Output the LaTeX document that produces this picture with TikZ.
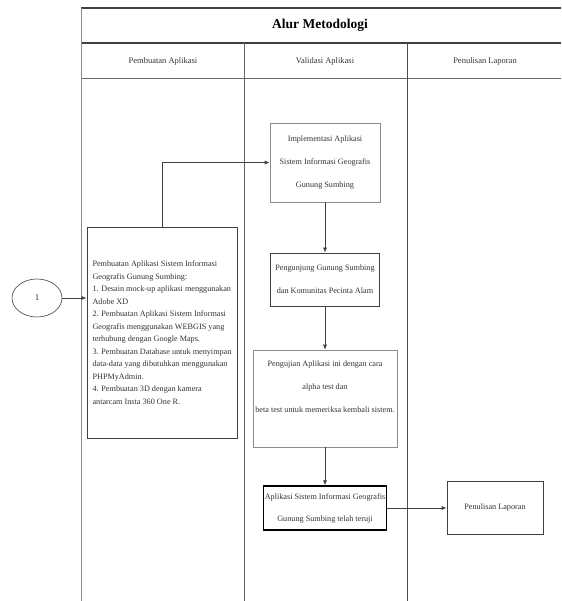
\documentclass[tikz,border=0pt]{standalone}
\usepackage{fontspec}
\setmainfont{Liberation Serif}
\usetikzlibrary{arrows.meta,shapes.geometric}
\begin{document}
\begin{tikzpicture}[x=1pt,y=-1pt,
  every node/.style={text=black!80},
  lanethin/.style={draw=black!45, line width=0.8pt},
  lanethick/.style={draw=black!75, line width=1.3pt},
  box/.style={draw=black!45, line width=0.6pt, fill=white, align=center, inner sep=0pt, font=\fontsize{8.2}{23}\selectfont},
  darkbox/.style={box, draw=black!75, line width=0.8pt},
  boldbox/.style={box, draw=black, line width=1.3pt},
  arr/.style={draw=black!75, line width=0.6pt, -{Latex[length=5pt,width=4pt]}}]
\useasboundingbox (0,0) rectangle (561,601);
% swimlane frame
\draw[lanethick] (81,8) -- (561,8);
\draw[lanethick] (81,43) -- (561,43);
\draw[lanethin, draw=black!60] (81,78) -- (561,78);
\draw[lanethin] (81,8) -- (81,601);
\draw[lanethin, draw=black!60] (244,43) -- (244,601);
\draw[lanethin, draw=black!70] (407,43) -- (407,601);
\node[font=\fontsize{13.5}{15}\selectfont\bfseries, text=black] (title) at (320,25.5) {Alur Metodologi};
\node[font=\fontsize{8.5}{10}\selectfont] (h1) at (163,61) {Pembuatan Aplikasi};
\node[font=\fontsize{8.5}{10}\selectfont] (h2) at (325,61) {Validasi Aplikasi};
\node[font=\fontsize{8.5}{10}\selectfont] (h3) at (485,61) {Penulisan Laporan};
% start connector
\node[ellipse, draw=black!75, line width=0.6pt, minimum width=50, minimum height=38, inner sep=0pt, font=\fontsize{9}{10}\selectfont] (start) at (37,298) {1};
% boxes
\node[darkbox, minimum width=150, minimum height=211, align=left, font=\fontsize{8.2}{12.5}\selectfont] (build) at (162,332.5) {Pembuatan Aplikasi Sistem Informasi\\
Geografis Gunung Sumbing:\\
1. Desain mock-up aplikasi menggunakan\\
Adobe XD\\
2. Pembuatan Aplikasi Sistem Informasi\\
Geografis menggunakan WEBGIS yang\\
terhubung dengan Google Maps.\\
3. Pembuatan Database untuk menyimpan\\
data-data yang dibutuhkan menggunakan\\
PHPMyAdmin.\\
4. Pembuatan 3D dengan kamera\\
antarcam Insta 360 One R.};
\node[box, minimum width=110, minimum height=79] (impl) at (325,162.5) {Implementasi Aplikasi\\Sistem Informasi Geografis\\Gunung Sumbing};
\node[darkbox, minimum width=109, minimum height=53] (visit) at (325,279.5) {Pengunjung Gunung Sumbing\\dan Komunitas Pecinta Alam};
\node[box, minimum width=144, minimum height=97] (test) at (325,398.5) {Pengujian Aplikasi ini dengan cara\\alpha test dan\\beta test untuk memeriksa kembali sistem.\\\mbox{}};
\node[boldbox, minimum width=123, minimum height=44, font=\fontsize{8.2}{22}\selectfont] (done) at (325,508) {Aplikasi Sistem Informasi Geografis\\Gunung Sumbing telah teruji};
\node[darkbox, minimum width=96, minimum height=53] (report) at (495,508) {Penulisan Laporan};
% connectors
\draw[arr] (start.east) -- (start.east -| build.west);
\draw[arr] (build.north) |- (impl.west);
\draw[arr] (impl.south) -- (visit.north);
\draw[arr] (visit.south) -- (test.north);
\draw[arr] (test.south) -- (done.north);
\draw[arr] (done.east) -- (report.west);
\end{tikzpicture}
\end{document}
